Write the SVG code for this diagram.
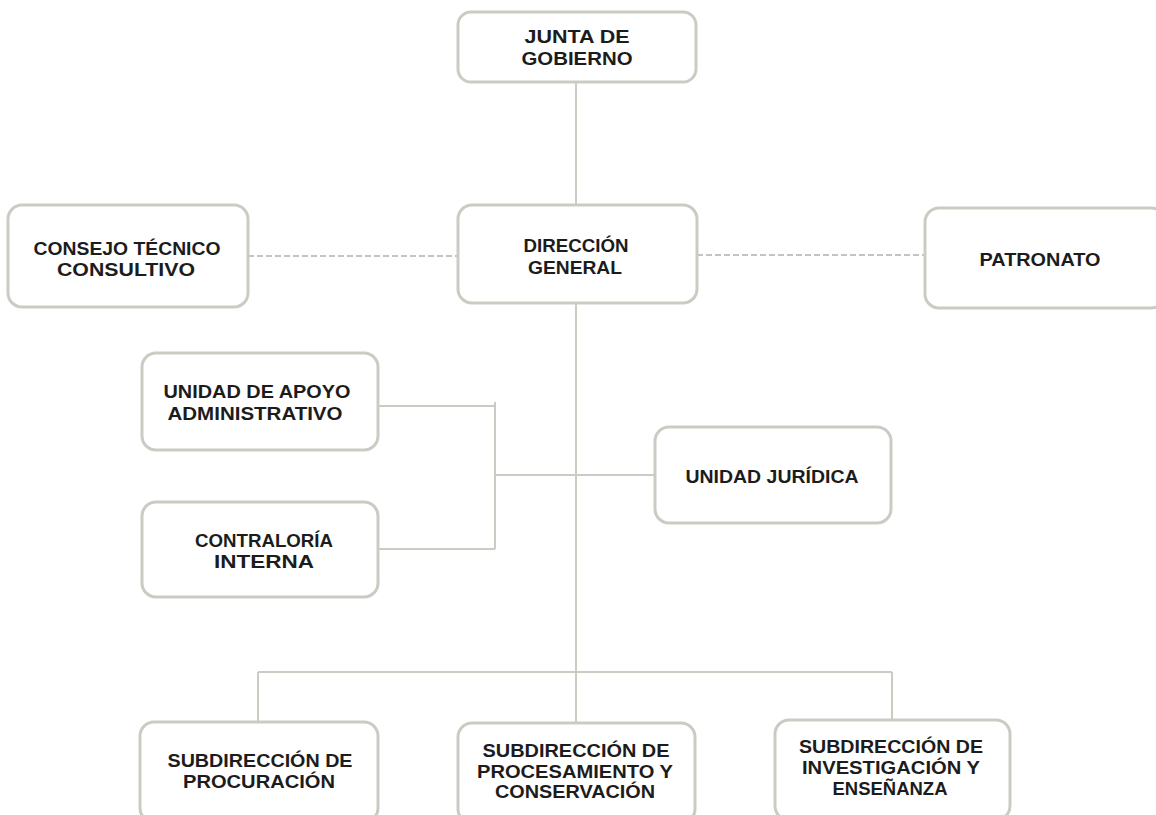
<svg xmlns="http://www.w3.org/2000/svg" width="1156" height="815" viewBox="0 0 1156 815">
<style>
.box{fill:#ffffff;stroke:#cbcbc3;stroke-width:3}
.t{font-family:"Liberation Sans",Arial,sans-serif;font-weight:bold;font-size:19px;fill:#1c1c1c;text-anchor:middle}
.ln{fill:none;stroke:#cbcbc3;stroke-width:2}
.dash{fill:none;stroke:#c4c4c4;stroke-width:2;stroke-dasharray:6 3}
</style>
<rect width="1156" height="815" fill="#ffffff"/>
<g id="connectors">
<line class="ln" x1="576" y1="82" x2="576" y2="205"/>
<line class="dash" x1="248" y1="256" x2="458" y2="256"/>
<line class="dash" x1="697" y1="255" x2="925" y2="255"/>
<line class="ln" x1="576" y1="303" x2="576" y2="723"/>
<line class="ln" x1="378" y1="406" x2="495" y2="406"/>
<line class="ln" x1="495" y1="402" x2="495" y2="549"/>
<line class="ln" x1="378" y1="549" x2="495" y2="549"/>
<line class="ln" x1="495" y1="475" x2="655" y2="475"/>
<line class="ln" x1="258" y1="672" x2="892" y2="672"/>
<line class="ln" x1="258" y1="672" x2="258" y2="722"/>
<line class="ln" x1="892" y1="672" x2="892" y2="720"/>
</g>
<g id="junta">
<rect class="box" x="458" y="12" width="238" height="70" rx="13"/>
<text class="t" x="577" y="43" textLength="105" lengthAdjust="spacingAndGlyphs">JUNTA DE</text>
<text class="t" x="577" y="65" textLength="111" lengthAdjust="spacingAndGlyphs">GOBIERNO</text>
</g>
<g id="direccion">
<rect class="box" x="458" y="205" width="239" height="98" rx="14"/>
<text class="t" x="576" y="252" textLength="105" lengthAdjust="spacingAndGlyphs">DIRECCIÓN</text>
<text class="t" x="575" y="274" textLength="94" lengthAdjust="spacingAndGlyphs">GENERAL</text>
</g>
<g id="consejo">
<rect class="box" x="8" y="205" width="240" height="102" rx="14"/>
<text class="t" x="127" y="255" textLength="187" lengthAdjust="spacingAndGlyphs">CONSEJO TÉCNICO</text>
<text class="t" x="126" y="276" textLength="138" lengthAdjust="spacingAndGlyphs">CONSULTIVO</text>
</g>
<g id="patronato">
<rect class="box" x="925" y="208" width="240" height="100" rx="14"/>
<text class="t" x="1040" y="266" textLength="121" lengthAdjust="spacingAndGlyphs">PATRONATO</text>
</g>
<g id="apoyo">
<rect class="box" x="142" y="353" width="236" height="97" rx="14"/>
<text class="t" x="257" y="398" textLength="187" lengthAdjust="spacingAndGlyphs">UNIDAD DE APOYO</text>
<text class="t" x="255" y="420" textLength="175" lengthAdjust="spacingAndGlyphs">ADMINISTRATIVO</text>
</g>
<g id="contraloria">
<rect class="box" x="142" y="502" width="236" height="95" rx="14"/>
<text class="t" x="264" y="547" textLength="138" lengthAdjust="spacingAndGlyphs">CONTRALORÍA</text>
<text class="t" x="264" y="568" textLength="100" lengthAdjust="spacingAndGlyphs">INTERNA</text>
</g>
<g id="juridica">
<rect class="box" x="655" y="427" width="236" height="96" rx="14"/>
<text class="t" x="772" y="483" textLength="173" lengthAdjust="spacingAndGlyphs">UNIDAD JURÍDICA</text>
</g>
<g id="procuracion">
<rect class="box" x="140" y="722" width="238" height="100" rx="14"/>
<text class="t" x="260" y="767" textLength="185" lengthAdjust="spacingAndGlyphs">SUBDIRECCIÓN DE</text>
<text class="t" x="259" y="788" textLength="152" lengthAdjust="spacingAndGlyphs">PROCURACIÓN</text>
</g>
<g id="procesamiento">
<rect class="box" x="458" y="723" width="237" height="100" rx="14"/>
<text class="t" x="576" y="757" textLength="187" lengthAdjust="spacingAndGlyphs">SUBDIRECCIÓN DE</text>
<text class="t" x="575" y="778" textLength="196" lengthAdjust="spacingAndGlyphs">PROCESAMIENTO Y</text>
<text class="t" x="575" y="798" textLength="160" lengthAdjust="spacingAndGlyphs">CONSERVACIÓN</text>
</g>
<g id="investigacion">
<rect class="box" x="775" y="720" width="235" height="100" rx="14"/>
<text class="t" x="891" y="753" textLength="184" lengthAdjust="spacingAndGlyphs">SUBDIRECCIÓN DE</text>
<text class="t" x="891" y="774" textLength="178" lengthAdjust="spacingAndGlyphs">INVESTIGACIÓN Y</text>
<text class="t" x="890" y="795" textLength="115" lengthAdjust="spacingAndGlyphs">ENSEÑANZA</text>
</g>
</svg>
